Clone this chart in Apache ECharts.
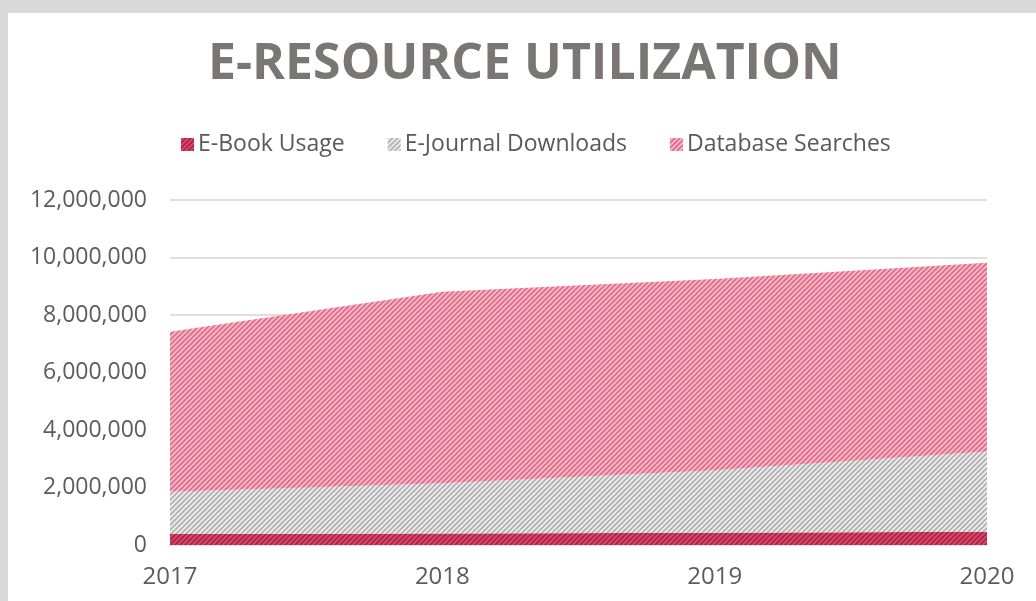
<!DOCTYPE html>
<html>
<head>
  <meta charset="UTF-8">
  <title>E-Resource Utilization</title>
  <script src="https://cdn.jsdelivr.net/npm/echarts@6/dist/echarts.min.js"></script>
  <style>
    body { margin: 0; background: #d9d9d9; }
  </style>
</head>
<body>
  <div id="chart" style="width:1036px; height:601px;"></div>
  <script>
    var years = ['2017', '2018', '2019', '2020'];
    var ebookUsage = [380000, 400000, 430000, 460000];
    var ejournalDownloads = [1470000, 1750000, 2170000, 2790000];
    var databaseSearches = [5570000, 6660000, 6650000, 6570000];

    // little hatch tiles, lines going up to the right
    function hatch(base, line) {
      var c = document.createElement('canvas');
      c.width = 5; c.height = 5;
      var ctx = c.getContext('2d');
      ctx.fillStyle = base;
      ctx.fillRect(0, 0, 5, 5);
      ctx.strokeStyle = line;
      ctx.lineWidth = 1.5;
      ctx.beginPath();
      ctx.moveTo(-1, 6); ctx.lineTo(6, -1);
      ctx.moveTo(-1, 1); ctx.lineTo(1, -1);
      ctx.moveTo(4, 6); ctx.lineTo(6, 4);
      ctx.stroke();
      return { image: c, repeat: 'repeat' };
    }

    var chart = echarts.init(document.getElementById('chart'), null, {renderer: 'canvas'});
    var font = '"Open Sans", sans-serif';

    function areaSeries(name, data, fill) {
      return {
        name: name,
        type: 'line',
        stack: 'total',
        data: data,
        symbol: 'none',
        lineStyle: { width: 0 },
        itemStyle: { color: fill },
        areaStyle: { color: fill, opacity: 1 }
      };
    }

    chart.setOption({
      backgroundColor: '#d9d9d9',
      graphic: [{
        type: 'rect', z: -10,
        shape: { x: 8, y: 13, width: 1028, height: 588 },
        style: { fill: '#ffffff' }
      }],
      title: {
        text: 'E-RESOURCE UTILIZATION',
        left: 203,
        top: 35,
        textStyle: { fontFamily: font, fontSize: 50, fontWeight: 'bold', color: '#7a7676' }
      },
      legend: {
        top: 128,
        left: 176,
        itemGap: 43,
        itemWidth: 13,
        itemHeight: 13,
        icon: 'rect',
        textStyle: { fontFamily: font, fontSize: 23, color: '#595959', padding: [0, 0, 0, -1] }
      },
      grid: { left: 170, right: 49, top: 200, bottom: 56 },
      xAxis: {
        type: 'category',
        data: years,
        boundaryGap: false,
        axisLine: { show: true, lineStyle: { color: '#e6e4e4', width: 2 } },
        axisTick: { show: false },
        axisLabel: { fontFamily: font, fontSize: 24, color: '#5f5b5b', margin: 20 }
      },
      yAxis: {
        type: 'value',
        min: 0,
        max: 12000000,
        interval: 2000000,
        axisLine: { show: false },
        axisTick: { show: false },
        splitLine: { lineStyle: { color: '#e0dede', width: 2 } },
        axisLabel: {
          fontFamily: font, fontSize: 23, color: '#5f5b5b', margin: 23,
          formatter: function (v) { return v.toLocaleString('en-US'); }
        }
      },
      series: [
        areaSeries('E-Book Usage', ebookUsage, hatch('#d6486a', '#a61e3f')),
        areaSeries('E-Journal Downloads', ejournalDownloads, hatch('#eaeaea', '#a8a8a8')),
        areaSeries('Database Searches', databaseSearches, hatch('#f7b6c6', '#dc6380'))
      ]
    });
  </script>
</body>
</html>
